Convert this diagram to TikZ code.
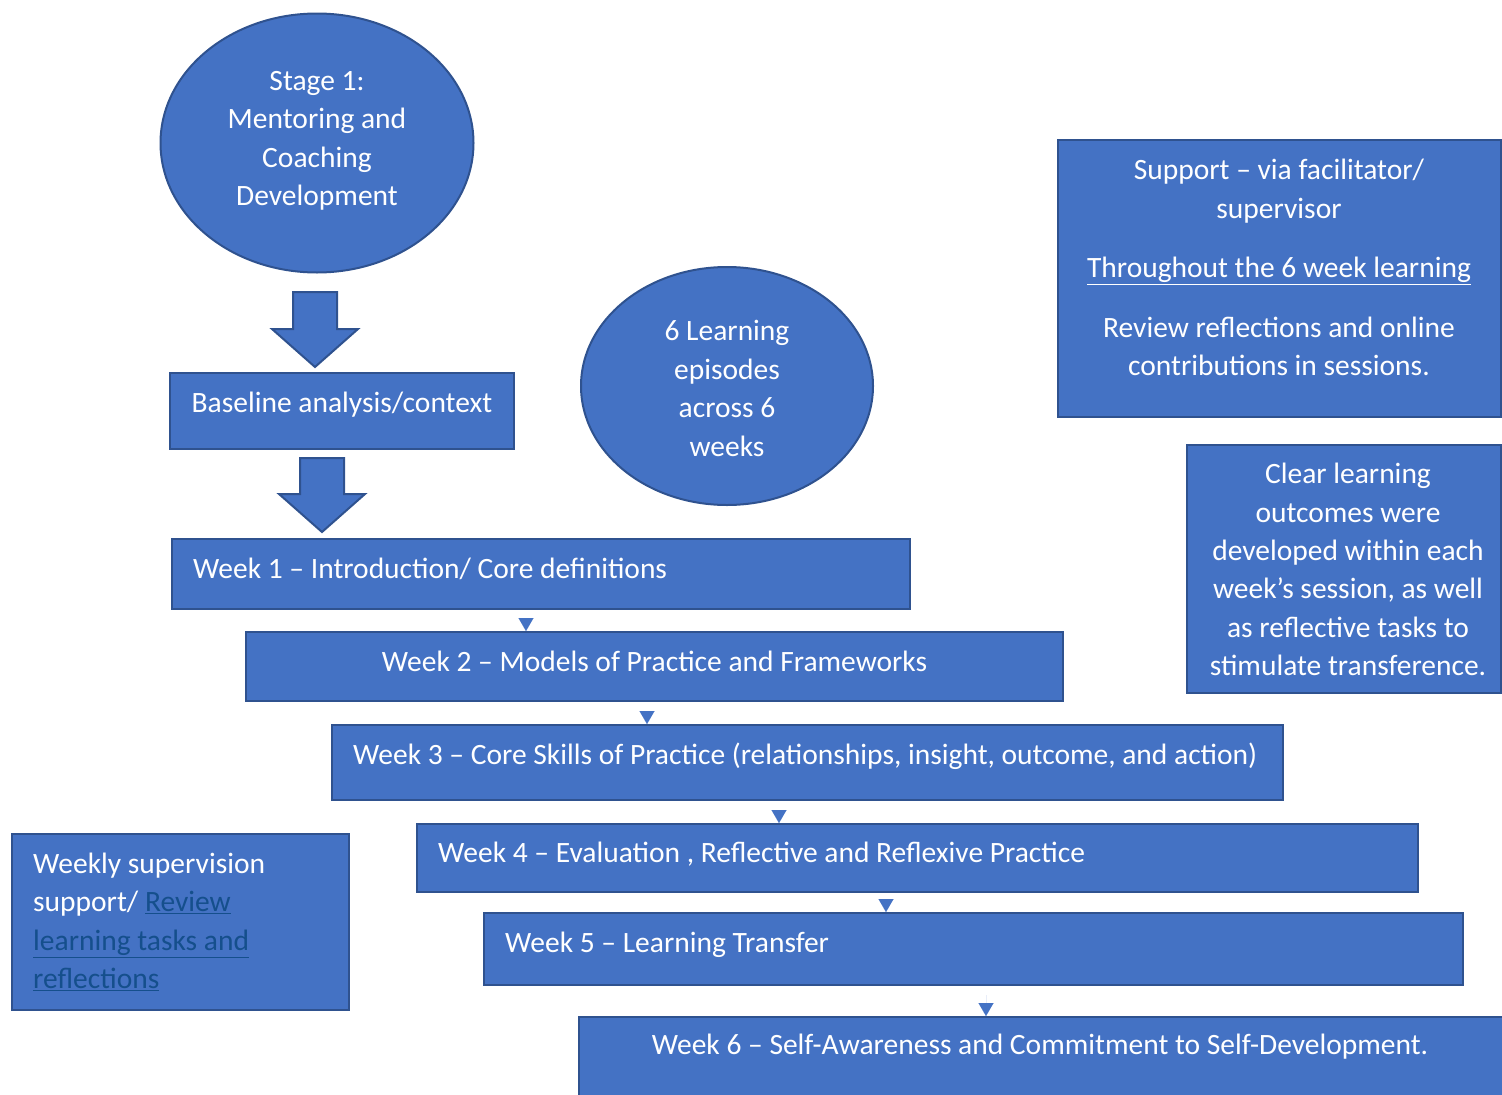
\documentclass[tikz,border=0pt]{standalone}
\usepackage{fontspec}
\setmainfont{Carlito}
\usetikzlibrary{shapes.geometric,arrows.meta}
\definecolor{boxfill}{HTML}{4472C4}
\definecolor{boxline}{HTML}{2F528F}
\definecolor{linkblue}{HTML}{154F8C}
\newcommand\lnk[1]{\textcolor{linkblue}{\underline{#1}}}
\begin{document}
\begin{tikzpicture}[x=1pt,y=-1pt,
  txt/.style={text=white, font=\fontsize{29.5}{38.4}\selectfont, inner sep=0pt},
  box/.style={draw=boxline, fill=boxfill, line width=2pt, rectangle, inner sep=0pt, anchor=north west},
  oval/.style={draw=boxline, fill=boxfill, line width=2pt, ellipse, inner sep=0pt},
  blockarrow/.style={draw=boxline, fill=boxfill, line width=2pt, line join=miter},
  tri/.style={boxfill, line width=0.01pt, shorten <=9pt, -{Triangle[width=15pt,length=13pt]}}
]
\useasboundingbox (0,0) rectangle (1502,1095);

% ellipses
\node[oval, minimum width=313pt, minimum height=259pt] (stage) at (317,143) {};
\node[txt, align=center] (stageT) at ([yshift=2pt]stage.center)
  {Stage 1:\\Mentoring and\\Coaching\\Development};
\node[oval, minimum width=292pt, minimum height=238pt] (episodes) at (727,386) {};
\node[txt, align=center] (episodesT) at ([yshift=-2.5pt]episodes.center)
  {6 Learning\\episodes\\across 6\\weeks};

% baseline box
\node[box, minimum width=344pt, minimum height=76pt] (base) at (169,372) {};
\node[txt] (baseT) at ([yshift=6pt]base.center) {Baseline analysis/context};

% week boxes
\node[box, minimum width=738pt, minimum height=70pt] (w1) at (171,538) {};
\node[txt, anchor=west] (w1T) at ([xshift=22pt,yshift=5pt]w1.west)
  {Week 1 -- Introduction/ Core definitions};
\node[box, minimum width=817pt, minimum height=69pt] (w2) at (245,631) {};
\node[txt] (w2T) at ([yshift=5pt]w2.center)
  {Week 2 -- Models of Practice and Frameworks};
\node[box, minimum width=951pt, minimum height=75pt] (w3) at (331,724) {};
\node[txt, anchor=west] (w3T) at ([xshift=22pt,yshift=6pt]w3.west)
  {Week 3 -- Core Skills of Practice (relationships, insight, outcome, and action)};
\node[box, minimum width=1001pt, minimum height=68pt] (w4) at (416,823) {};
\node[txt, anchor=west] (w4T) at ([xshift=22pt,yshift=4pt]w4.west)
  {Week 4 -- Evaluation , Reflective and Reflexive Practice};
\node[box, minimum width=979pt, minimum height=72pt] (w5) at (483,912) {};
\node[txt, anchor=west] (w5T) at ([xshift=22pt,yshift=4pt]w5.west)
  {Week 5 -- Learning Transfer};
\node[box, minimum width=926pt, minimum height=86pt] (w6) at (578,1016) {};
\node[txt, align=center] (w6T) at (1040,1047)
  {Week 6 -- Self-Awareness and Commitment to Self-Development.};

% side boxes
\node[box, minimum width=443pt, minimum height=277pt] (support) at (1057,139) {};
\node[txt, align=center] (supportT) at (1279,267.5)
  {Support -- via facilitator/\\supervisor\\[21pt]\underline{Throughout the 6 week learning}\\[21pt]Review reflections and online\\contributions in sessions.};
\node[box, minimum width=314pt, minimum height=248pt] (clear) at (1186,444) {};
\node[txt, align=center] (clearT) at (1348,569.5)
  {Clear learning\\outcomes were\\developed within each\\week's session, as well\\as reflective tasks to\\stimulate transference.};
\node[box, minimum width=337pt, minimum height=176pt] (weekly) at (11,833) {};
\node[txt, align=left, anchor=west] (weeklyT) at ([xshift=22pt]weekly.west)
  {Weekly supervision\\support/ \lnk{Review}\\\lnk{learning tasks and}\\\lnk{reflections}};

% block arrows
\draw[blockarrow] (315,367) -- ++(-43,-38) -- ++(21,0) -- ++(0,-37) -- ++(44,0) -- ++(0,37) -- ++(21,0) -- cycle;
\draw[blockarrow] (322,532) -- ++(-43,-38) -- ++(21,0) -- ++(0,-36) -- ++(44,0) -- ++(0,36) -- ++(21,0) -- cycle;

% small connectors
\draw[tri] (526,0 |- w1.south) -- (526,0 |- w2.north);
\draw[tri] (647,0 |- w2.south) -- (647,0 |- w3.north);
\draw[tri] (779,0 |- w3.south) -- (779,0 |- w4.north);
\draw[tri] (886,0 |- w4.south) -- (886,0 |- w5.north);
\draw[tri] (986,0 |- w5.south) -- (986,0 |- w6.north);
\end{tikzpicture}
\end{document}
